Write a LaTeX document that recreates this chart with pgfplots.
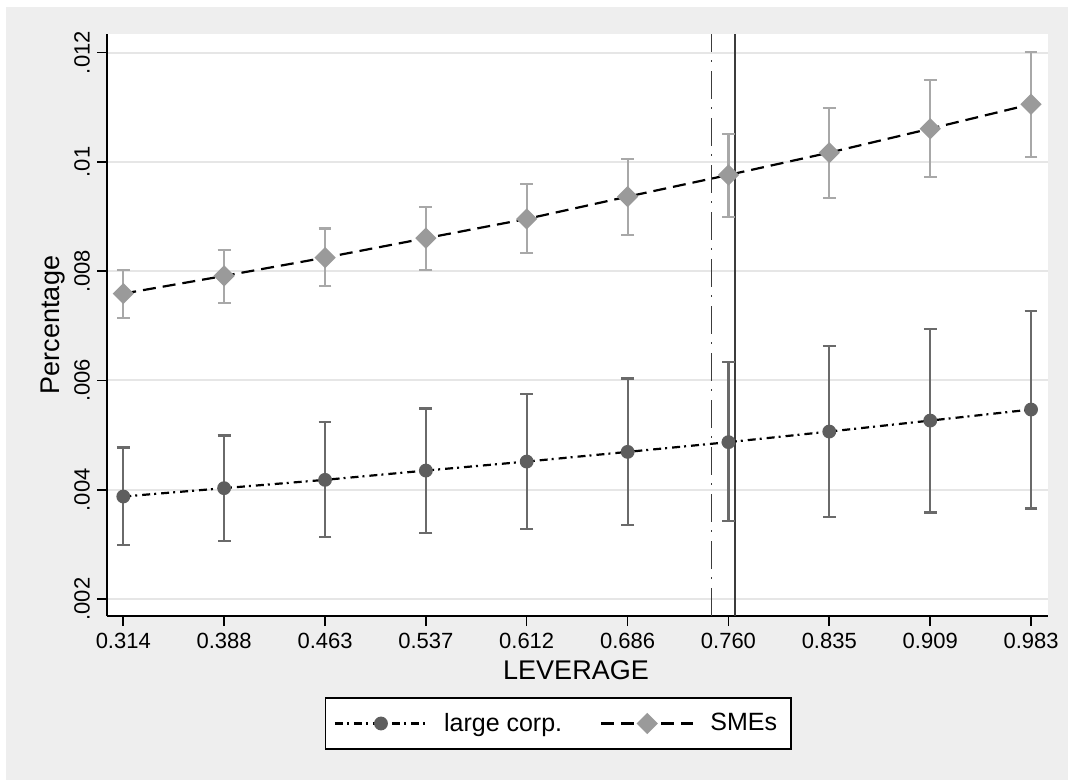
\documentclass[border=0pt]{standalone}
\usepackage{fontspec}
\setmainfont{Liberation Sans}
\usepackage{pgfplots}
\usepackage{pgfplotstable}
\pgfplotsset{compat=1.18}
\definecolor{bggray}{HTML}{EEEEEE}
\definecolor{gridgray}{HTML}{E6E6E6}
\definecolor{smemark}{HTML}{9A9A9A}
\definecolor{smebar}{HTML}{A8A8A8}
\definecolor{lcmark}{HTML}{5E5E5E}
\definecolor{lcbar}{HTML}{6A6A6A}
\definecolor{vline}{HTML}{3C3C3C}

\pgfplotstableread{
x      y        ep       em
0.3140 0.003876 0.000896 0.000884
0.3883 0.004029 0.000963 0.000964
0.4627 0.004181 0.001056 0.001048
0.5370 0.004351 0.001135 0.001146
0.6113 0.004516 0.001239 0.001238
0.6857 0.004693 0.001342 0.001341
0.7600 0.004871 0.001464 0.001440
0.8343 0.005065 0.001563 0.001561
0.9087 0.005266 0.001678 0.001683
0.9830 0.005468 0.001806 0.001812
}\largecorp

\pgfplotstableread{
x      y        ep       em
0.3140 0.007590 0.000434 0.000440
0.3883 0.007914 0.000481 0.000489
0.4627 0.008249 0.000531 0.000524
0.5370 0.008604 0.000578 0.000575
0.6113 0.008957 0.000640 0.000617
0.6857 0.009365 0.000685 0.000701
0.7600 0.009762 0.000745 0.000763
0.8343 0.010170 0.000824 0.000823
0.9087 0.010609 0.000886 0.000889
0.9830 0.011056 0.000962 0.000959
}\smes

\begin{document}
\begin{tikzpicture}
\fill[white] (0,0) rectangle (534pt,390pt);
\fill[bggray] (3pt,0) rectangle (534pt,386.5pt);
\path[use as bounding box] (0,0) rectangle (534pt,390pt);
\begin{axis}[
  at={(53.5pt,82pt)}, anchor=south west,
  scale only axis, width=470.5pt, height=291pt,
  xmin=0.302, xmax=0.9955, ymin=0.001689, ymax=0.012342,
  axis x line*=bottom, axis y line*=left,
  axis line style={line width=0.8pt, black},
  tick align=outside, major tick length=5pt,
  tick style={line width=0.8pt, black},
  xtick={0.3140,0.3883,0.4627,0.5370,0.6113,0.6857,0.7600,0.8343,0.9087,0.9830},
  xticklabels={0.314,0.388,0.463,0.537,0.612,0.686,0.760,0.835,0.909,0.983},
  ytick={0.002,0.004,0.006,0.008,0.010,0.012},
  yticklabels={.002,.004,.006,.008,.01,.012},
  scaled y ticks=false, scaled x ticks=false,
  ymajorgrids, grid style={line width=1pt, color=gridgray},
  tick label style={font=\fontsize{11}{13}\selectfont},
  yticklabel style={rotate=90, anchor=south},
  xlabel={LEVERAGE}, ylabel={Percentage},
  label style={font=\fontsize{13.5}{16}\selectfont},
  xlabel style={at={(axis description cs:0.4984,-0.1088)}, anchor=base},
  ylabel style={at={(axis description cs:-0.0505,0.5)}, anchor=base},
  axis background/.style={fill=white},
  legend style={
    at={(axis description cs:0.4798,-0.1847)}, anchor=center,
    legend columns=2, draw=black, line width=0.6pt, fill=white,
    font=\fontsize{12.5}{15}\selectfont,
    inner xsep=4pt, inner ysep=5pt,
    nodes={inner xsep=3pt, inner ysep=2.5pt},
    /tikz/every odd column/.append style={column sep=5pt},
    /tikz/every even column/.append style={column sep=16pt},
  },
  legend image code/.code={\draw[mark repeat=2,mark phase=2,#1] plot coordinates {(0pt,0pt) (23pt,0pt) (46pt,0pt)};},
]
\addplot[vline, line width=0.8pt, dash pattern=on 14pt off 4.5pt on 1pt off 4pt, forget plot]
  coordinates {(0.7476,0.001689) (0.7476,0.012342)};
\addplot[vline, line width=0.8pt, forget plot]
  coordinates {(0.765,0.001689) (0.765,0.012342)};

\addplot[black, line width=1.1pt, dash pattern=on 4pt off 2pt on 1pt off 2.5pt,
  mark=*, mark size=2.9pt, mark options={solid, fill=lcmark, draw=lcmark},
  error bars/.cd, y dir=both, y explicit,
  error bar style={solid, line width=1.1pt, color=lcbar},
  error mark options={solid, line width=1.1pt, color=lcbar, mark size=3.2pt, rotate=90}]
  table[x=x, y=y, y error plus=ep, y error minus=em] {\largecorp};
\addlegendentry{large corp.}

\addplot[black, line width=1.1pt, dash pattern=on 6.5pt off 3.5pt,
  mark=square*, mark size=3.2pt, mark options={solid, rotate=45, fill=smemark, draw=smemark},
  error bars/.cd, y dir=both, y explicit,
  error bar style={solid, line width=1.1pt, color=smebar},
  error mark options={solid, line width=1.1pt, color=smebar, mark size=3.2pt, rotate=90}]
  table[x=x, y=y, y error plus=ep, y error minus=em] {\smes};
\addlegendentry{SMEs}
\end{axis}
\end{tikzpicture}
\end{document}
